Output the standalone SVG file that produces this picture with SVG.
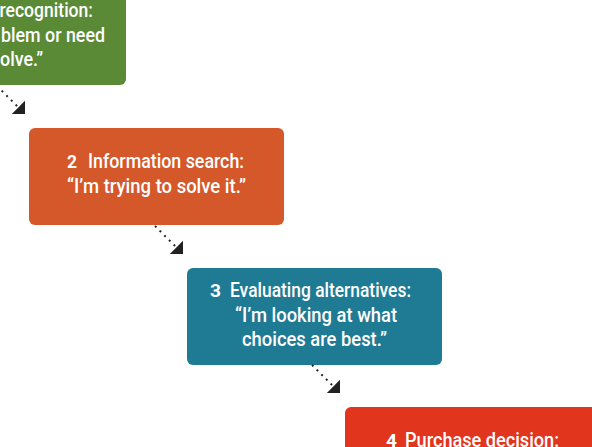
<svg xmlns="http://www.w3.org/2000/svg" width="592" height="447" viewBox="0 0 592 447">
<style>
.t{font-family:Roboto,"Liberation Sans",sans-serif;font-size:19.5px;font-weight:500;fill:#ffffff}
.n{font-family:Roboto,"Liberation Sans",sans-serif;font-size:19px;font-weight:700;fill:#ffffff}
.c{fill:none;stroke:#222222;stroke-width:2;stroke-dasharray:2 4.6}
</style>
<defs>
<marker id="ah" markerUnits="userSpaceOnUse" markerWidth="20" markerHeight="20" viewBox="0 -10 10 20" refX="9.3" refY="0" orient="auto">
<path d="M0,-9.3 L9.3,0 L0,9.3 Z" fill="#222222"/>
</marker>
</defs>
<rect width="592" height="447" fill="#ffffff"/>
<g id="node1">
<rect x="-129" y="-12" width="255" height="97" rx="6" fill="#5a8a36"/>
<text class="t" x="-0.5" y="17" textLength="93.5" lengthAdjust="spacingAndGlyphs">recognition:</text>
<text class="t" x="1" y="42" textLength="104" lengthAdjust="spacingAndGlyphs">blem or need</text>
<text class="t" x="0" y="66" textLength="43" lengthAdjust="spacingAndGlyphs">olve.”</text>
</g>
<g id="node2">
<rect x="29" y="128" width="255" height="97" rx="6" fill="#d4582a"/>
<text class="n" x="67" y="168" textLength="10" lengthAdjust="spacingAndGlyphs">2</text>
<text class="t" x="88" y="168" textLength="156" lengthAdjust="spacingAndGlyphs">Information search:</text>
<text class="t" x="67" y="193" textLength="179" lengthAdjust="spacingAndGlyphs">“I’m trying to solve it.”</text>
</g>
<g id="node3">
<rect x="187" y="268" width="255" height="97" rx="6" fill="#1f7a94"/>
<text class="n" x="210" y="297" textLength="11" lengthAdjust="spacingAndGlyphs">3</text>
<text class="t" x="230" y="297" textLength="181" lengthAdjust="spacingAndGlyphs">Evaluating alternatives:</text>
<text class="t" x="235" y="322" textLength="162" lengthAdjust="spacingAndGlyphs">“I’m looking at what</text>
<text class="t" x="242" y="346" textLength="145" lengthAdjust="spacingAndGlyphs">choices are best.”</text>
</g>
<g id="node4">
<rect x="345" y="407" width="255" height="97" rx="6" fill="#e2351e"/>
<text class="n" x="386" y="447" textLength="11" lengthAdjust="spacingAndGlyphs">4</text>
<text class="t" x="405" y="447" textLength="154" lengthAdjust="spacingAndGlyphs">Purchase decision:</text>
</g>
<g id="connectors">
<line class="c" x1="-3" y1="86" x2="25" y2="114" marker-end="url(#ah)"/>
<line class="c" x1="155" y1="226" x2="183" y2="254" marker-end="url(#ah)"/>
<line class="c" x1="312" y1="365" x2="340" y2="393" marker-end="url(#ah)"/>
</g>
</svg>
